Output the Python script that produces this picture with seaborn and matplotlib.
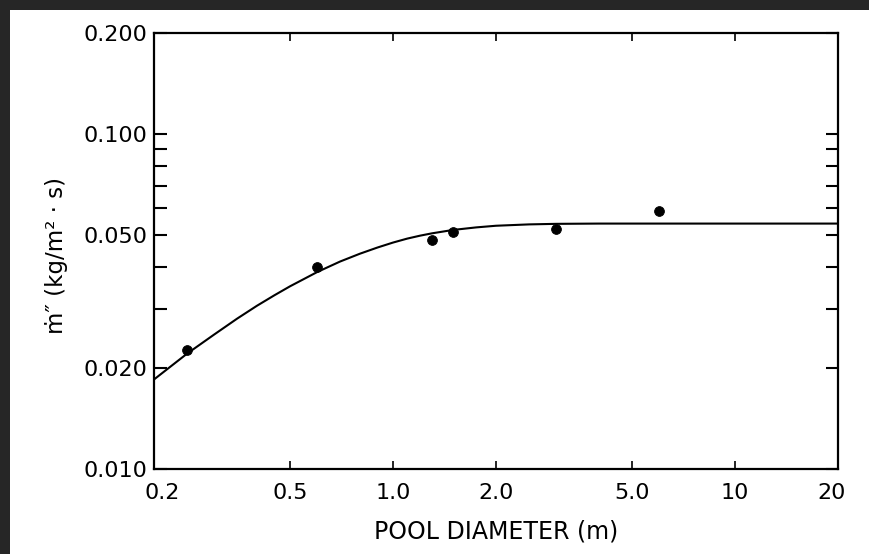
# brzdna rychlost horeni podle prumeru bazenu (log-log)
import numpy as np
import pandas as pd
import seaborn as sns
import matplotlib.pyplot as plt
from matplotlib.patches import Rectangle
from matplotlib.transforms import ScaledTranslation
from matplotlib.ticker import FixedLocator, FixedFormatter, NullFormatter

# namerene body
prumer = [0.25, 0.6, 1.3, 1.5, 3.0, 6.0]
rychlost = [0.0227, 0.0401, 0.0483, 0.0510, 0.0520, 0.0589]

# krivka
krivka_x = [0.2, 0.25, 0.3, 0.35, 0.4, 0.45, 0.5, 0.6, 0.7, 0.8, 0.9, 1.0,
            1.1, 1.2, 1.3, 1.5, 1.75, 2.0, 2.5, 3.0, 4.0, 5.0, 10, 20]
krivka_y = [0.0185, 0.0221, 0.0252, 0.0281, 0.0307, 0.0330, 0.0351, 0.0387,
            0.0416, 0.0439, 0.0458, 0.0474, 0.0487, 0.0497, 0.0505, 0.0517,
            0.0526, 0.0532, 0.0537, 0.0539, 0.0540, 0.0540, 0.0540, 0.0540]

x_ticks = [0.2, 0.5, 1.0, 2.0, 5.0, 10, 20]
x_labels = ['0.2', '0.5', '1.0', '2.0', '5.0', '10', '20']
y_ticks = [0.01, 0.02, 0.05, 0.1, 0.2]
y_labels = ['0.010', '0.020', '0.050', '0.100', '0.200']
y_minor = [0.03, 0.04, 0.06, 0.07, 0.08, 0.09]

body = pd.DataFrame({'D': prumer, 'm': rychlost})
cara = pd.DataFrame({'D': krivka_x, 'm': krivka_y})

sns.set_style('ticks')
plt.rcParams['font.family'] = ['DejaVu Sans']
plt.rcParams['text.color'] = 'black'
plt.rcParams['axes.labelcolor'] = 'black'

fig = plt.figure(figsize=(8.69, 5.54), dpi=100, facecolor='#262626')
# bily papir
fig.patches.append(Rectangle((10 / 869, 0), 1, 544 / 554, transform=fig.transFigure,
                             facecolor='white', edgecolor='none', zorder=-10))
ax = fig.add_axes([0.1772, 0.1534, 0.7871, 0.787])
ax.set_facecolor('white')

sns.lineplot(data=cara, x='D', y='m', ax=ax, color='black', lw=1.5, sort=True)
sns.scatterplot(data=body, x='D', y='m', ax=ax, color='black', s=50,
                edgecolor='black', zorder=3)

ax.set_xscale('log')
ax.set_yscale('log')
ax.set_xlim(0.2, 20)
ax.set_ylim(0.01, 0.2)

ax.xaxis.set_major_locator(FixedLocator(x_ticks))
ax.xaxis.set_major_formatter(FixedFormatter(x_labels))
ax.xaxis.set_minor_locator(FixedLocator([]))
ax.xaxis.set_minor_formatter(NullFormatter())
ax.yaxis.set_major_locator(FixedLocator(y_ticks))
ax.yaxis.set_major_formatter(FixedFormatter(y_labels))
ax.yaxis.set_minor_locator(FixedLocator(y_minor))
ax.yaxis.set_minor_formatter(NullFormatter())

ax.tick_params(axis='x', which='major', direction='in', top=True, length=6,
               width=1.2, labelsize=16, pad=10, colors='black')
ax.tick_params(axis='y', which='both', direction='in', right=True, length=9,
               width=1.5, labelsize=16, pad=5, colors='black')
for s in ax.spines.values():
    s.set_linewidth(1.6)
    s.set_color('black')

# krajni popisky posunout dovnitr
fig.canvas.draw()
xl = ax.get_xticklabels()
xl[0].set_transform(xl[0].get_transform() + ScaledTranslation(8 / 100, 0, fig.dpi_scale_trans))
xl[-1].set_transform(xl[-1].get_transform() + ScaledTranslation(-6 / 100, 0, fig.dpi_scale_trans))

ax.set_xlabel('POOL DIAMETER (m)', fontsize=17, color='black')
ax.xaxis.set_label_coords(0.5, -0.115)
ax.set_ylabel('ṁ″ (kg/m² · s)', fontsize=16.5, color='black')
ax.yaxis.set_label_coords(-0.125, 0.489)

fig.savefig('out.png', dpi=100, facecolor=fig.get_facecolor())
